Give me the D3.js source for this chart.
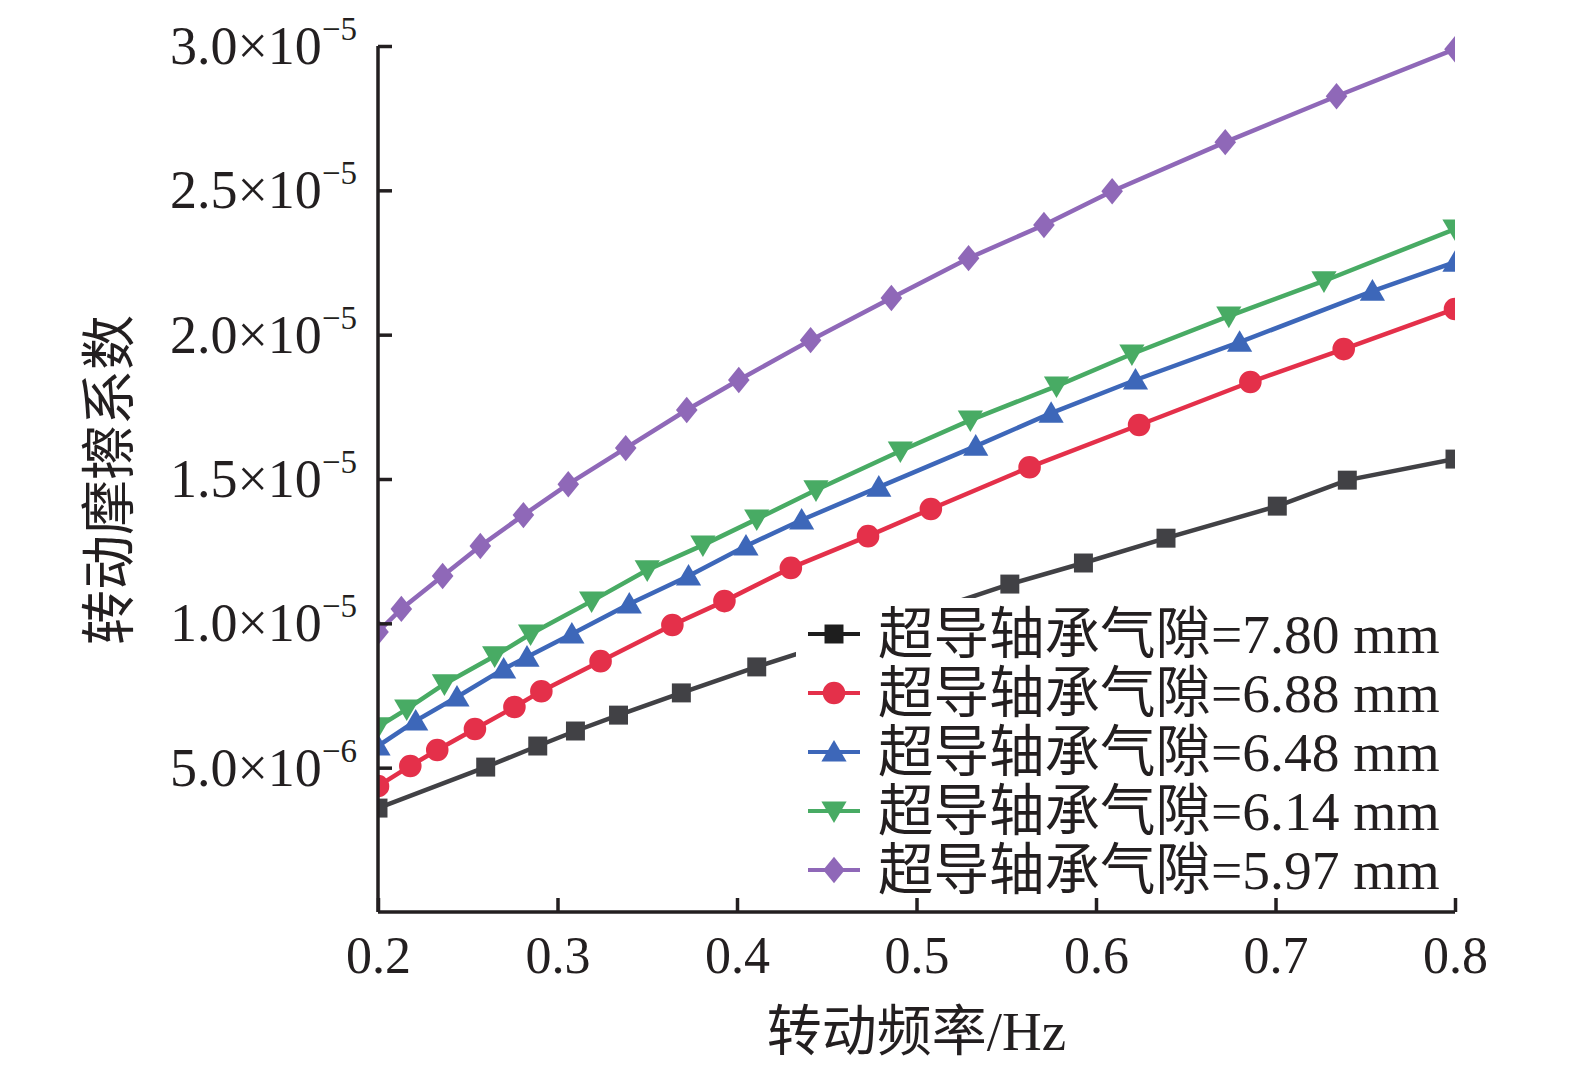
<!DOCTYPE html>
<html>
<head>
<meta charset="utf-8">
<script src="https://cdn.jsdelivr.net/npm/d3@7"></script>
<style>
  body { margin: 0; background: #fff; }
  svg text { font-family: "Liberation Serif", "Noto Sans CJK SC", serif; fill: #231f20; }
</style>
</head>
<body>
<svg id="chart" width="1575" height="1073"></svg>
<script>
// legend labels
var gaps = ['7.80', '6.88', '6.48', '6.14', '5.97'];
var colors = ['#414145', '#e4304a', '#3d67b9', '#48ab64', '#8f68b8'];
var legendColors = ['#1e1e1e', '#e4304a', '#3d67b9', '#48ab64', '#8f68b8'];
var shapes = ['square', 'circle', 'triangle', 'triangleDown', 'diamond'];

// frequency (Hz) per series
var x780 = [0.200, 0.260, 0.289, 0.310, 0.334, 0.369, 0.411, 0.480, 0.552, 0.593, 0.639, 0.701, 0.740, 0.800];
var y780 = [3.60, 5.02, 5.75, 6.27, 6.82, 7.59, 8.49, 9.87, 11.36, 12.09, 12.95, 14.06, 14.96, 15.69];

var x688 = [0.200, 0.218, 0.233, 0.254, 0.276, 0.291, 0.324, 0.364, 0.393, 0.430, 0.473, 0.508, 0.563, 0.624, 0.686, 0.738, 0.800];
var y688 = [4.36, 5.06, 5.61, 6.34, 7.10, 7.65, 8.69, 9.94, 10.77, 11.92, 13.02, 13.96, 15.41, 16.87, 18.36, 19.50, 20.89];

var x648 = [0.200, 0.221, 0.244, 0.270, 0.283, 0.308, 0.340, 0.373, 0.405, 0.436, 0.479, 0.533, 0.575, 0.622, 0.680, 0.754, 0.800];
var y648 = [5.75, 6.62, 7.45, 8.42, 8.83, 9.63, 10.67, 11.64, 12.68, 13.58, 14.72, 16.14, 17.28, 18.43, 19.74, 21.51, 22.51];

var x614 = [0.200, 0.216, 0.237, 0.265, 0.285, 0.319, 0.350, 0.381, 0.411, 0.444, 0.491, 0.530, 0.578, 0.620, 0.674, 0.727, 0.800];
var y614 = [6.41, 7.03, 7.90, 8.87, 9.63, 10.77, 11.85, 12.71, 13.61, 14.62, 15.97, 17.04, 18.22, 19.33, 20.64, 21.86, 23.66];

var x597 = [0.200, 0.213, 0.236, 0.257, 0.281, 0.306, 0.338, 0.372, 0.401, 0.441, 0.486, 0.529, 0.571, 0.609, 0.672, 0.734, 0.800];
var y597 = [9.70, 10.50, 11.64, 12.68, 13.75, 14.82, 16.07, 17.39, 18.43, 19.81, 21.27, 22.65, 23.80, 24.97, 26.67, 28.26, 29.89];

// friction coefficient in units of 1e-6
var xs = [x780, x688, x648, x614, x597];
var ys = [y780, y688, y648, y614, y597];

var xTicks = [0.2, 0.3, 0.4, 0.5, 0.6, 0.7, 0.8];
var yTicks = [5, 10, 15, 20, 25, 30];
var yTickMant = ['5.0', '1.0', '1.5', '2.0', '2.5', '3.0'];
var yTickExp = ['\u22126', '\u22125', '\u22125', '\u22125', '\u22125', '\u22125'];

var margin = {left: 378, top: 46, right: 120, bottom: 161};
var W = 1575, H = 1073;
var w = W - margin.left - margin.right, h = H - margin.top - margin.bottom;

var svg = d3.select('#chart');
var g = svg.append('g').attr('transform', 'translate(' + margin.left + ',' + margin.top + ')');

var x = d3.scaleLinear().domain([0.2, 0.8]).range([0, w]);
var y = d3.scaleLinear().domain([0, 30]).range([h, 0]);

svg.append('defs').append('clipPath').attr('id', 'plotclip')
  .append('rect').attr('x', 0).attr('y', -40).attr('width', w).attr('height', h + 40);

var markerSize = 24;
function markerPath(shape) {
  var s = markerSize / 2;
  if (shape === 'square') return d3.symbol(d3.symbolSquare, 360)();
  if (shape === 'circle') return d3.symbol(d3.symbolCircle, 400)();
  if (shape === 'triangle') return 'M0,' + (-s) + 'L' + s * 1.05 + ',' + s * 0.8 + 'L' + (-s * 1.05) + ',' + s * 0.8 + 'Z';
  if (shape === 'triangleDown') return 'M0,' + s + 'L' + s * 1.05 + ',' + (-s * 0.8) + 'L' + (-s * 1.05) + ',' + (-s * 0.8) + 'Z';
  return 'M0,' + (-s * 1.1) + 'L' + s * 0.9 + ',0L0,' + s * 1.1 + 'L' + (-s * 0.9) + ',0Z';
}

var plot = g.append('g').attr('clip-path', 'url(#plotclip)');
var line = d3.line().x(function (d) { return x(d[0]); }).y(function (d) { return y(d[1]); });

xs.forEach(function (xv, i) {
  var pts = xv.map(function (v, j) { return [v, ys[i][j]]; });
  var sg = plot.append('g');
  sg.append('path').datum(pts)
    .attr('d', line)
    .attr('fill', 'none')
    .attr('stroke', colors[i])
    .attr('stroke-width', 4.5);
  sg.selectAll('path.mk').data(pts).enter().append('path')
    .attr('class', 'mk')
    .attr('transform', function (d) { return 'translate(' + x(d[0]) + ',' + y(d[1]) + ')'; })
    .attr('d', markerPath(shapes[i]))
    .attr('fill', colors[i]);
});

// axes
var xAxis = g.append('g').attr('transform', 'translate(0,' + h + ')')
  .call(d3.axisBottom(x).tickValues(xTicks).tickSize(-14).tickPadding(24).tickFormat(d3.format('.1f')));
var yAxis = g.append('g')
  .call(d3.axisLeft(y).tickValues(yTicks).tickSize(-14).tickFormat(''));

[xAxis, yAxis].forEach(function (a) {
  a.select('.domain').attr('stroke', '#231f20').attr('stroke-width', 3.5);
  a.selectAll('.tick line').attr('stroke', '#231f20').attr('stroke-width', 3.5);
});
xAxis.selectAll('.tick text').attr('font-size', 52).attr('fill', '#231f20')
  .style('font-family', '"Liberation Serif", serif');
// plain L-frame instead of d3's outer ticks
xAxis.select('.domain').attr('d', 'M0,0H' + w);
yAxis.select('.domain').attr('d', 'M0,0V' + h);

// y tick labels with superscript exponent
yTicks.forEach(function (t, i) {
  var tx = g.append('text')
    .attr('x', -21)
    .attr('y', y(t) + 18)
    .attr('text-anchor', 'end')
    .attr('font-size', 54);
  tx.append('tspan').text(yTickMant[i] + '\u00d710');
  tx.append('tspan').attr('font-size', 33).attr('dy', -24).text(yTickExp[i]);
});

// axis titles
svg.append('text')
  .attr('x', margin.left + w / 2)
  .attr('y', 1050)
  .attr('text-anchor', 'middle')
  .attr('font-size', 55)
  .text('转动频率/Hz');

svg.append('text')
  .attr('transform', 'translate(128,' + (margin.top + 434) + ') rotate(-90)')
  .attr('text-anchor', 'middle')
  .attr('font-size', 55)
  .text('转动摩擦系数');

// legend
var leg = g.append('g').attr('transform', 'translate(' + (x(0.2) + 430) + ',' + 552 + ')');
leg.append('rect').attr('x', -12).attr('y', 0).attr('width', 660).attr('height', 300).attr('fill', '#fff');
gaps.forEach(function (gp, i) {
  var row = leg.append('g').attr('transform', 'translate(0,' + (36 + i * 59) + ')');
  row.append('line').attr('x1', 0).attr('x2', 52).attr('y1', 0).attr('y2', 0)
    .attr('stroke', legendColors[i]).attr('stroke-width', 4);
  row.append('path').attr('transform', 'translate(26,0)')
    .attr('d', markerPath(shapes[i])).attr('fill', legendColors[i]);
  row.append('text').attr('x', 70).attr('y', 19).attr('font-size', 55.5)
    .text('超导轴承气隙=' + gp + ' mm');
});
</script>
</body>
</html>
